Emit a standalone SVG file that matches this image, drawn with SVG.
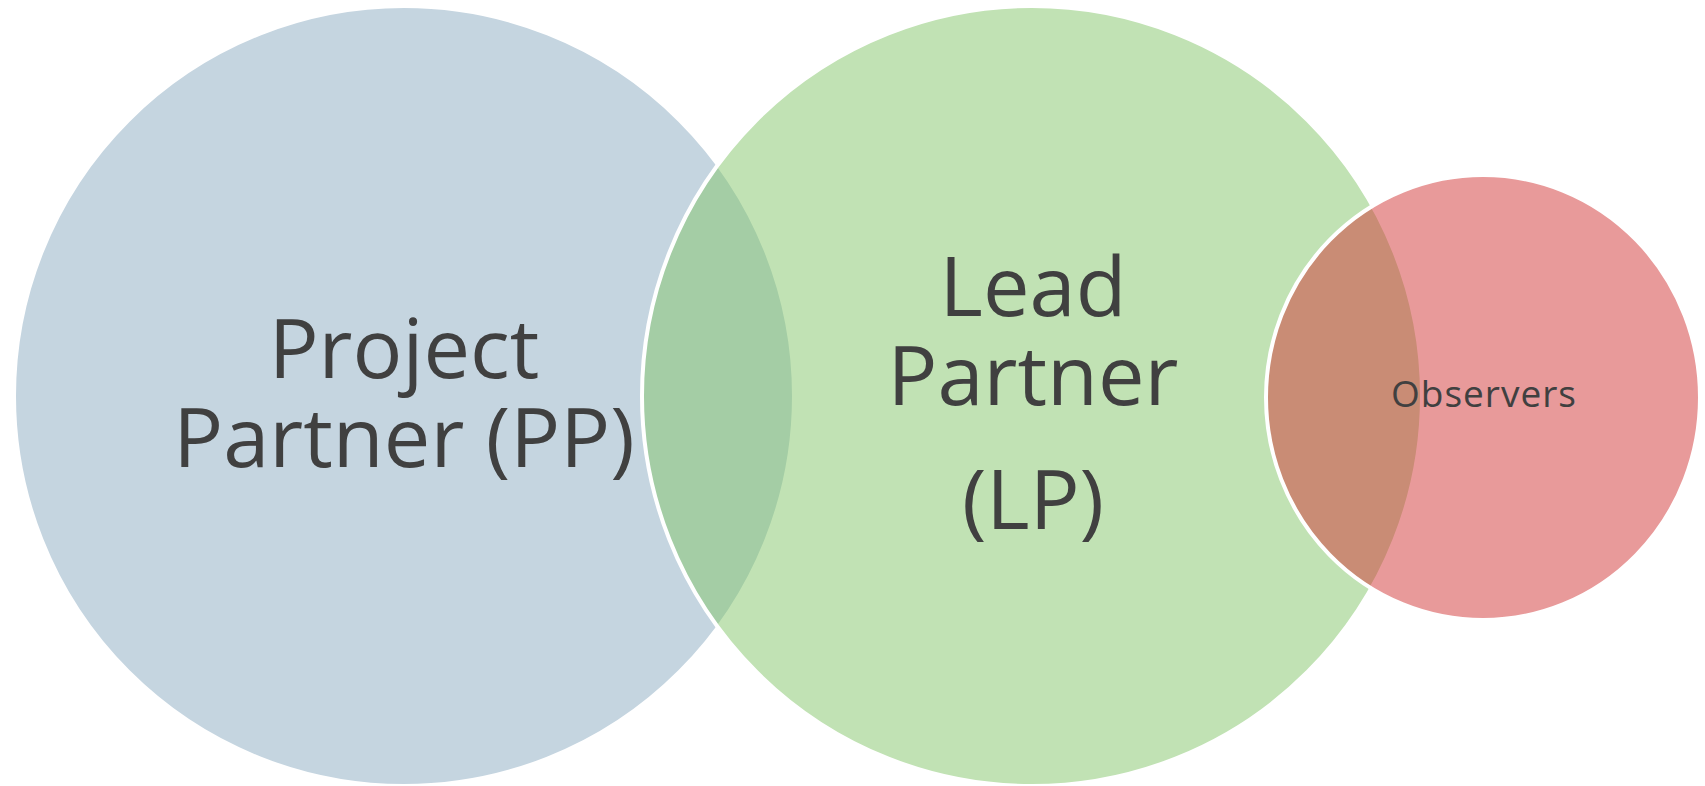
<svg xmlns="http://www.w3.org/2000/svg" width="1705" height="786" viewBox="0 0 1705 786">
  <style>
    .ring { stroke: #ffffff; stroke-width: 4; }
    .label { font-family: "Open Sans", "DejaVu Sans", sans-serif; fill: #404040; text-anchor: middle; }
    .big { font-size: 83px; }
    .small { font-size: 37px; letter-spacing: 1px; }
  </style>
  <rect width="1705" height="786" fill="#ffffff"/>
  <g id="node-pp">
    <circle class="ring" cx="404" cy="396" r="390" fill="#c5d5e0"/>
    <text class="label big" x="404" y="378">Project</text>
    <text class="label big" x="404" y="467">Partner (PP)</text>
  </g>
  <g id="node-lp">
    <circle class="ring" cx="1032" cy="396" r="390" fill="#83c569" fill-opacity="0.5"/>
    <text class="label big" x="1033" y="316">Lead</text>
    <text class="label big" x="1033" y="405">Partner</text>
    <text class="label big" x="1033" y="529">(LP)</text>
  </g>
  <g id="node-observers">
    <ellipse class="ring" cx="1483" cy="397.5" rx="217" ry="222.5" fill="#d13535" fill-opacity="0.5"/>
    <text class="label small" x="1484" y="407">Observers</text>
  </g>
  <g id="connectors"/>
</svg>
